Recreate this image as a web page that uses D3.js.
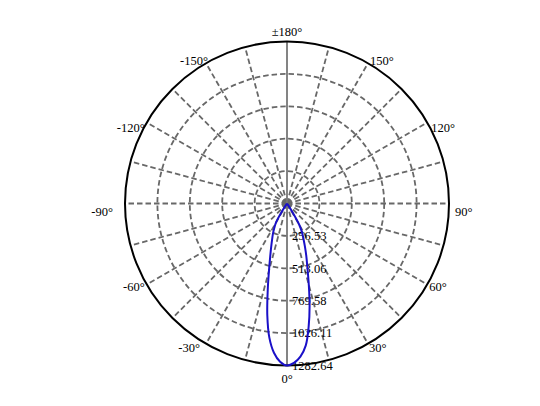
<!DOCTYPE html>
<html>
<head>
<meta charset="utf-8">
<script src="https://cdn.jsdelivr.net/npm/d3@7/dist/d3.min.js"></script>
<style>
  html, body { margin: 0; padding: 0; background: #fff; }
  svg { display: block; }
  text { font-family: "Liberation Serif", "DejaVu Serif", serif; font-size: 12.5px; fill: #000; }
</style>
</head>
<body>
<svg id="chart" width="540" height="406"></svg>
<script>
// ---- data ----
const anglesDeg = [0, 2.5, 5, 7.5, 10, 12.5, 15, 17.5, 20, 22.5, 25, 27.5, 30, 32.5, 35, 40, 50, 60, 90, 120, 150, 180];
const rightCd   = [1282.64, 1263, 1217, 1135, 988, 827, 667, 539, 449, 372, 308, 256, 192, 77, 13, 0, 0, 0, 0, 0, 0, 0];
const leftCd    = [1282.64, 1254, 1186, 1071, 898, 705, 552, 443, 366, 308, 263, 218, 173, 71, 13, 0, 0, 0, 0, 0, 0, 0];
const ringTicks = [256.53, 513.06, 769.58, 1026.11, 1282.64];
const ringLabels = ["256.53", "513.06", "769.58", "1026.11", "1282.64"];
const angleTicks = [0, 30, 60, 90, 120, 150, 180, -150, -120, -90, -60, -30];
const angleLabels = ["0°", "30°", "60°", "90°", "120°", "150°", "±180°", "-150°", "-120°", "-90°", "-60°", "-30°"];
const maxCd = 1282.64;

// ---- layout ----
const svg = d3.select("#chart");
const cx = 287, cy = 203.5, R = 162;
const r = d3.scaleLinear().domain([0, maxCd]).range([0, R]);
const toRad = d => d * Math.PI / 180;
// 0° at bottom, +90° at right
const px = (deg, rad) => rad * Math.sin(toRad(deg));
const py = (deg, rad) => rad * Math.cos(toRad(deg));

const g = svg.append("g").attr("transform", `translate(${cx},${cy})`);

const gridColor = "#686868";

// rings (dashed)
g.selectAll("circle.ring")
  .data(ringTicks.slice(0, -1))
  .join("circle")
  .attr("class", "ring")
  .attr("r", d => r(d))
  .attr("fill", "none")
  .attr("stroke", gridColor)
  .attr("stroke-width", 1.8)
  .attr("stroke-dasharray", "5.5,3");

// spokes every 15°
const spokes = d3.range(-165, 181, 15).filter(a => a !== 0 && a !== 180);
g.selectAll("line.spoke")
  .data(spokes)
  .join("line")
  .attr("class", "spoke")
  .attr("x1", 0).attr("y1", 0)
  .attr("x2", d => px(d, R)).attr("y2", d => py(d, R))
  .attr("stroke", gridColor)
  .attr("stroke-width", 1.8)
  .attr("stroke-dasharray", "5.5,3");

// vertical solid axis (0° / 180°)
g.append("line")
  .attr("x1", 0).attr("y1", -R)
  .attr("x2", 0).attr("y2", R)
  .attr("stroke", "#777")
  .attr("stroke-width", 1.8);

// outer circle
g.append("circle")
  .attr("r", r(maxCd))
  .attr("fill", "none")
  .attr("stroke", "#000")
  .attr("stroke-width", 2);

// ring labels along 0° ray
g.selectAll("text.ringlab")
  .data(ringTicks)
  .join("text")
  .attr("class", "ringlab")
  .attr("x", 5)
  .attr("y", d => r(d))
  .attr("dy", "0.35em")
  .text((d, i) => ringLabels[i]);

// angle labels
const labelOffsets = {
  "0": [0, 17], "30": [1, 8], "60": [2, 6], "90": [6, 12.5], "120": [4, 9], "150": [2, 1.3],
  "180": [0, -5.5], "-150": [2, 1.3], "-120": [-2, 9], "-90": [-12, 12.5], "-60": [-2, 6.5], "-30": [-6, 8]
};
g.selectAll("text.anglab")
  .data(angleTicks)
  .join("text")
  .attr("class", "anglab")
  .attr("x", d => px(d, R) + labelOffsets[d][0])
  .attr("y", d => py(d, R) + labelOffsets[d][1])
  .attr("text-anchor", d => (d === 0 || d === 180) ? "middle" : (d > 0 ? "start" : "end"))
  .text((d, i) => angleLabels[i]);

// intensity curve
const firstZero = arr => arr.findIndex(v => v === 0);
const rz = firstZero(rightCd), lz = firstZero(leftCd);
const pts = [];
for (let i = lz; i >= 1; i--) pts.push({ a: -anglesDeg[i], v: leftCd[i] });
for (let i = 0; i <= rz; i++) pts.push({ a: anglesDeg[i], v: rightCd[i] });

const line = d3.lineRadial()
  .angle(d => Math.PI - toRad(d.a))
  .radius(d => r(d.v))
  .curve(d3.curveCatmullRom.alpha(0.5));

g.append("path")
  .datum(pts)
  .attr("d", line)
  .attr("fill", "none")
  .attr("stroke", "#1a10c8")
  .attr("stroke-width", 2);
</script>
</body>
</html>
